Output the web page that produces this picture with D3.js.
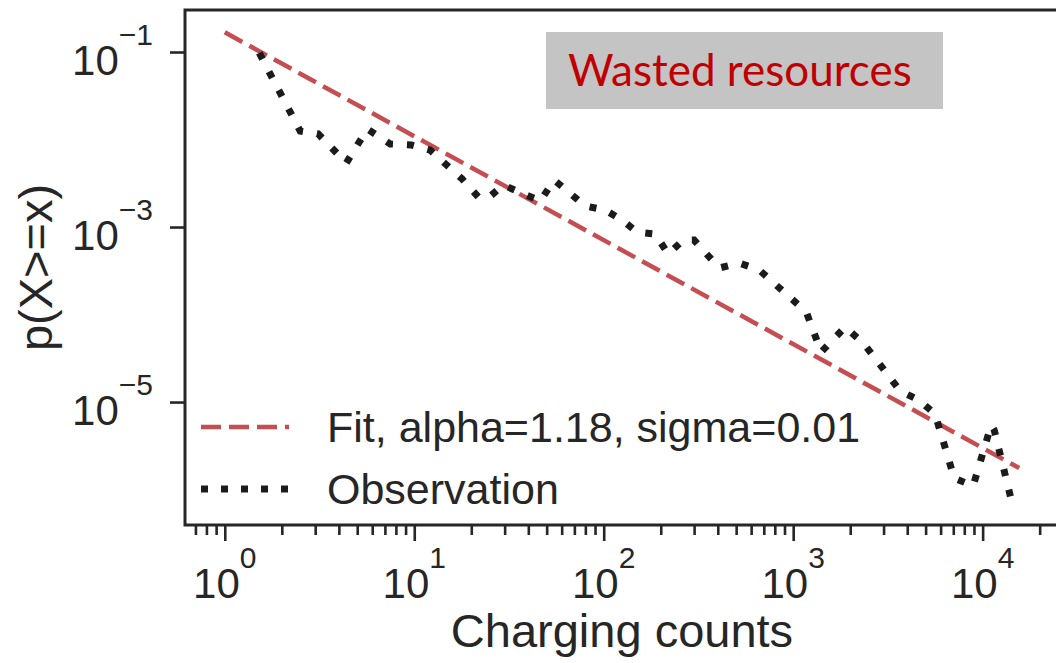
<!DOCTYPE html>
<html lang="en">
<head>
<meta charset="UTF-8">
<title>Charging counts</title>
<style>
  body { margin: 0; background: #fff; }
  text { font-family: "Liberation Sans", Arial, sans-serif; fill: #262626; }
</style>
</head>
<body>
<svg width="1056" height="663"></svg>

<script src="https://d3js.org/d3.v7.min.js"></script>
<script>

  var obsX = [1.52, 2.50, 3.11, 4.38, 5.65, 7.47, 9.64, 12.1, 17.9, 21.8, 24.9, 29.5,
              46.2, 54.8, 79.8, 102, 125, 150, 187, 219, 263, 300, 407, 519, 662,
              1172, 1406, 1881, 2370, 3670, 4624, 5610, 7080, 8910, 11090, 11510, 14130];
  var obsY = [0.0975, 0.0125, 0.0116, 0.00539, 0.0132, 0.00889, 0.00865, 0.00759, 0.00354,
              0.00220, 0.00220, 0.00302, 0.00198, 0.00344, 0.00174, 0.00156, 0.00120,
              0.000877, 0.000832, 0.000491, 0.000710, 0.000710, 0.000340, 0.000388, 0.000323,
              0.000107, 3.73e-5, 7.20e-5, 4.60e-5, 1.34e-5, 1.05e-5, 7.29e-6, 1.35e-6,
              1.10e-6, 5.46e-6, 4.79e-6, 7.79e-7];

  // power-law fit, end points
  var fitX = [1, 15600];
  var fitY = [0.168, 1.76e-6];

  var xTicks = [1, 10, 100, 1000, 10000];
  var xExponents = ["0", "1", "2", "3", "4"];
  var yTicks = [1e-1, 1e-3, 1e-5];
  var yExponents = ["\u22121", "\u22123", "\u22125"];

  var seriesNames = ["Fit, alpha=1.18, sigma=0.01", "Observation"];
  var noteText = "Wasted resources";
  var xTitle = "Charging counts";
  var yTitle = "p(X>=x)";

  var ink = "#262626";
  var fitColor = "#c44e52";
  var obsColor = "#1b1b1b";

  var svg = d3.select("svg");
  var margin = {top: 10, right: -10, bottom: 138, left: 185};
  var width = 1056 - margin.left - margin.right;
  var height = 663 - margin.top - margin.bottom;

  var g = svg.append("g")
      .attr("transform", "translate(" + margin.left + "," + margin.top + ")");

  var x = d3.scaleLog().domain([Math.pow(10, -0.21), Math.pow(10, 4.44)]).range([0, width]);
  var y = d3.scaleLog().domain([Math.pow(10, -0.52), Math.pow(10, -6.405)]).range([0, height]);

  // ticks
  var minorX = x.ticks().filter(function(d) { return xTicks.indexOf(d) < 0 && Math.abs(Math.log10(d) % 1) > 1e-6; });

  g.append("g")
      .attr("transform", "translate(0," + height + ")")
      .call(d3.axisBottom(x).tickValues(minorX).tickSize(10).tickFormat(""));
  g.append("g")
      .attr("transform", "translate(0," + height + ")")
      .call(d3.axisBottom(x).tickValues(xTicks).tickSize(16).tickFormat(""));
  g.append("g")
      .call(d3.axisLeft(y).tickValues(yTicks).tickSize(15).tickFormat(""));

  g.selectAll(".domain").remove();
  g.selectAll(".tick line").attr("stroke", ink).attr("stroke-width", 2.6);

  // spines
  g.append("path")
      .attr("d", "M" + width + ",0H0V" + height + "H" + width)
      .attr("fill", "none")
      .attr("stroke", ink)
      .attr("stroke-width", 3);

  // tick labels, 10 with superscript
  var xLab = g.selectAll(".xlab").data(xTicks).enter().append("text")
      .attr("class", "xlab")
      .attr("x", function(d) { return x(d); })
      .attr("y", height + 73)
      .attr("text-anchor", "middle")
      .style("font-size", "42px");
  xLab.append("tspan").text("10");
  xLab.append("tspan").attr("dy", -30).style("font-size", "30px")
      .text(function(d, i) { return xExponents[i]; });

  var yLab = g.selectAll(".ylab").data(yTicks).enter().append("text")
      .attr("class", "ylab")
      .attr("x", -32)
      .attr("y", function(d) { return y(d) + 23; })
      .attr("text-anchor", "end")
      .style("font-size", "42px");
  yLab.append("tspan").text("10");
  yLab.append("tspan").attr("dy", -30).style("font-size", "30px")
      .text(function(d, i) { return yExponents[i]; });

  // lines
  var line = d3.line()
      .x(function(d) { return x(d[0]); })
      .y(function(d) { return y(d[1]); });

  g.append("path")
      .datum(d3.zip(fitX, fitY))
      .attr("d", line)
      .attr("fill", "none")
      .attr("stroke", fitColor)
      .attr("stroke-width", 4.5)
      .attr("stroke-dasharray", "20 8");

  g.append("path")
      .datum(d3.zip(obsX, obsY))
      .attr("d", line)
      .attr("fill", "none")
      .attr("stroke", obsColor)
      .attr("stroke-width", 7)
      .attr("stroke-dasharray", "7 14");

  // legend
  var legend = g.append("g").attr("transform", "translate(16,417)");
  var styles = [
    {color: fitColor, width: 4.5, dash: "20 8"},
    {color: obsColor, width: 7, dash: "7 13"}
  ];
  seriesNames.forEach(function(name, i) {
    legend.append("line")
        .attr("x1", 0).attr("x2", 88)
        .attr("y1", i * 62).attr("y2", i * 62)
        .attr("stroke", styles[i].color)
        .attr("stroke-width", styles[i].width)
        .attr("stroke-dasharray", styles[i].dash);
    legend.append("text")
        .attr("x", 126)
        .attr("y", i * 62 + 15)
        .style("font-size", "43px")
        .text(name);
  });

  // annotation box
  g.append("rect")
      .attr("x", 361).attr("y", 22)
      .attr("width", 397).attr("height", 77)
      .attr("fill", "#c4c4c4");
  g.append("text")
      .attr("x", 383).attr("y", 76)
      .style("font-family", "Lato, 'Open Sans', sans-serif")
      .style("font-size", "44px")
      .style("fill", "#c00000")
      .text(noteText);

  // axis titles
  svg.append("text")
      .attr("x", 622).attr("y", 647)
      .attr("text-anchor", "middle")
      .style("font-size", "47px")
      .text(xTitle);

  svg.append("text")
      .attr("transform", "translate(52,267.5) rotate(-90)")
      .attr("text-anchor", "middle")
      .style("font-size", "47px")
      .text(yTitle);

</script>
</body>
</html>
